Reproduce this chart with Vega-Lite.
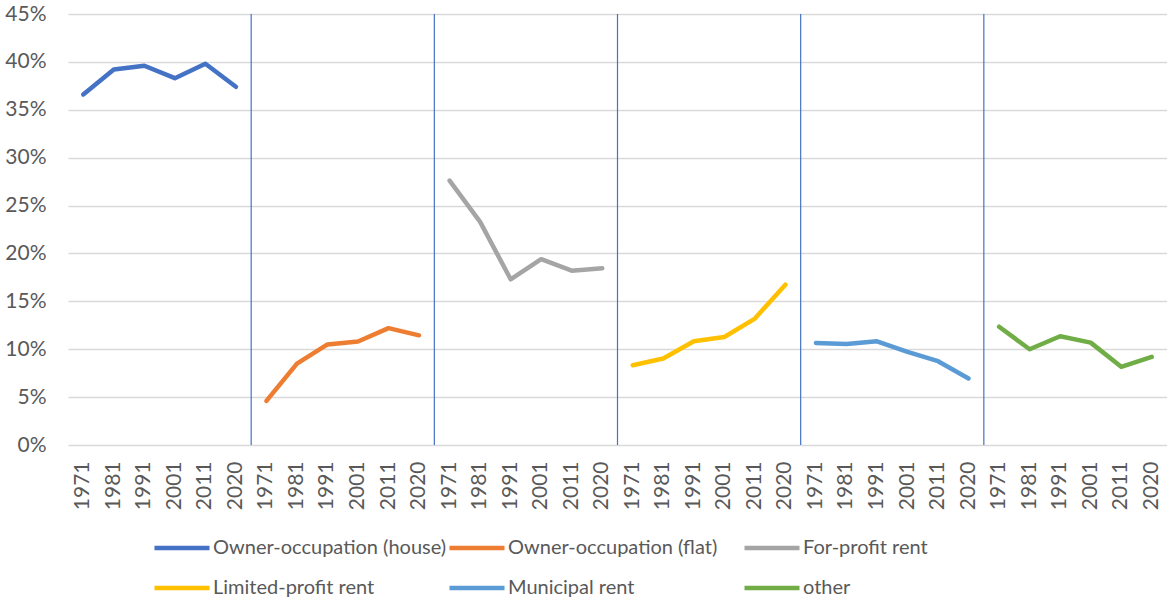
{
  "$schema": "https://vega.github.io/schema/vega-lite/v6.json",
  "width": 1099,
  "height": 431,
  "autosize": {"type": "none"},
  "padding": {"left": 68, "top": 14, "right": 0, "bottom": 156},
  "config": {
    "view": {"stroke": null},
    "font": "Lato",
    "axis": {"labelFont": "Lato", "labelColor": "#595959", "labelFontSize": 21, "grid": false, "domain": false, "ticks": false}
  },
  "datasets": {
    "series": [
      {"key": "1|1971", "s": "Owner-occupation (house)", "v": 0.366},
      {"key": "1|1981", "s": "Owner-occupation (house)", "v": 0.392},
      {"key": "1|1991", "s": "Owner-occupation (house)", "v": 0.396},
      {"key": "1|2001", "s": "Owner-occupation (house)", "v": 0.383},
      {"key": "1|2011", "s": "Owner-occupation (house)", "v": 0.398},
      {"key": "1|2020", "s": "Owner-occupation (house)", "v": 0.374},
      {"key": "2|1971", "s": "Owner-occupation (flat)", "v": 0.046},
      {"key": "2|1981", "s": "Owner-occupation (flat)", "v": 0.085},
      {"key": "2|1991", "s": "Owner-occupation (flat)", "v": 0.105},
      {"key": "2|2001", "s": "Owner-occupation (flat)", "v": 0.108},
      {"key": "2|2011", "s": "Owner-occupation (flat)", "v": 0.122},
      {"key": "2|2020", "s": "Owner-occupation (flat)", "v": 0.1145},
      {"key": "3|1971", "s": "For-profit rent", "v": 0.276},
      {"key": "3|1981", "s": "For-profit rent", "v": 0.233},
      {"key": "3|1991", "s": "For-profit rent", "v": 0.173},
      {"key": "3|2001", "s": "For-profit rent", "v": 0.194},
      {"key": "3|2011", "s": "For-profit rent", "v": 0.182},
      {"key": "3|2020", "s": "For-profit rent", "v": 0.1845},
      {"key": "4|1971", "s": "Limited-profit rent", "v": 0.0833},
      {"key": "4|1981", "s": "Limited-profit rent", "v": 0.0903},
      {"key": "4|1991", "s": "Limited-profit rent", "v": 0.1083},
      {"key": "4|2001", "s": "Limited-profit rent", "v": 0.1128},
      {"key": "4|2011", "s": "Limited-profit rent", "v": 0.132},
      {"key": "4|2020", "s": "Limited-profit rent", "v": 0.1674},
      {"key": "5|1971", "s": "Municipal rent", "v": 0.1066},
      {"key": "5|1981", "s": "Municipal rent", "v": 0.1055},
      {"key": "5|1991", "s": "Municipal rent", "v": 0.1083},
      {"key": "5|2001", "s": "Municipal rent", "v": 0.0972},
      {"key": "5|2011", "s": "Municipal rent", "v": 0.0875},
      {"key": "5|2020", "s": "Municipal rent", "v": 0.0695},
      {"key": "6|1971", "s": "other", "v": 0.1235},
      {"key": "6|1981", "s": "other", "v": 0.100},
      {"key": "6|1991", "s": "other", "v": 0.1135},
      {"key": "6|2001", "s": "other", "v": 0.1069},
      {"key": "6|2011", "s": "other", "v": 0.0816},
      {"key": "6|2020", "s": "other", "v": 0.092}
    ],
    "seps": [
      {"key": "2|1971"}, {"key": "3|1971"}, {"key": "4|1971"}, {"key": "5|1971"}, {"key": "6|1971"}
    ]
  },
  "layer": [
    {
      "data": {"name": "series"},
      "mark": {"type": "line", "strokeWidth": 4.5, "strokeCap": "round", "strokeJoin": "round"},
      "encoding": {
        "x": {
          "field": "key", "type": "ordinal", "bandPosition": 0.5,
          "scale": {"type": "band", "paddingInner": 0, "paddingOuter": 0},
          "axis": {"title": null, "labelAngle": -90, "labelPadding": 16, "labelExpr": "split(datum.value, '|')[1]"}
        },
        "y": {
          "field": "v", "type": "quantitative",
          "scale": {"domain": [0, 0.45]},
          "axis": {"title": null, "format": ".0%", "values": [0, 0.05, 0.1, 0.15, 0.2, 0.25, 0.3, 0.35, 0.4, 0.45], "grid": true, "gridColor": "#D9D9D9", "gridWidth": 1.5, "labelPadding": 22}
        },
        "color": {
          "field": "s", "type": "nominal",
          "scale": {
            "domain": ["Owner-occupation (house)", "Owner-occupation (flat)", "For-profit rent", "Limited-profit rent", "Municipal rent", "other"],
            "range": ["#4472C4", "#ED7D31", "#A5A5A5", "#FFC000", "#5B9BD5", "#70AD47"]
          },
          "legend": {
            "title": null, "orient": "none", "legendX": 84, "legendY": 504, "direction": "horizontal", "columns": 3,
            "gridAlign": "all", "columnPadding": -9, "rowPadding": -13,
            "symbolType": "stroke", "symbolStrokeWidth": 4.5, "symbolSize": 3025,
            "labelFont": "Lato", "labelFontSize": 20, "labelColor": "#595959", "labelOffset": 1, "labelLimit": 400
          }
        }
      }
    },
    {
      "data": {"name": "seps"},
      "mark": {"type": "rule", "color": "#4472C4", "strokeWidth": 1.2},
      "encoding": {
        "x": {"field": "key", "type": "ordinal", "bandPosition": 0}
      }
    }
  ]
}
